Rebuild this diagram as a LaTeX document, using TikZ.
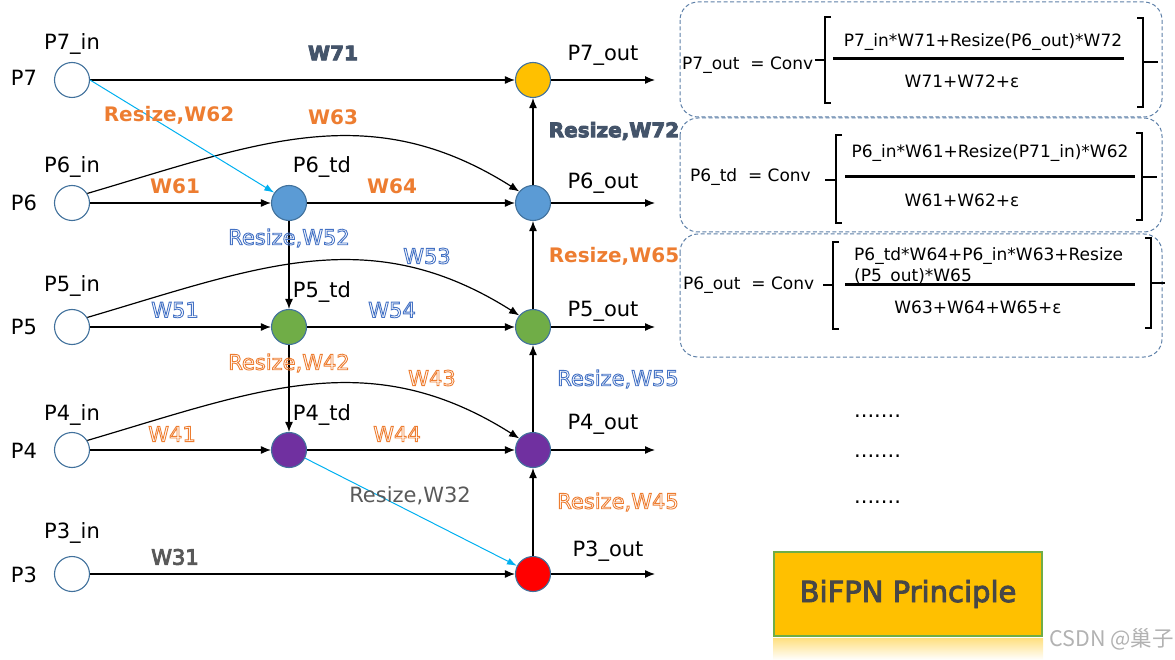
\documentclass[tikz,border=0pt]{standalone}
\usepackage{fontspec}
\setmainfont{DejaVu Sans}
\newfontfamily\cjk{Noto Sans CJK SC}
\usetikzlibrary{arrows.meta}
\definecolor{edgeblue}{HTML}{41719C}
\definecolor{cseven}{HTML}{FFC000}
\definecolor{csix}{HTML}{5B9BD5}
\definecolor{cfive}{HTML}{70AD47}
\definecolor{cfour}{HTML}{7030A0}
\definecolor{cthree}{HTML}{FF0000}
\definecolor{orng}{HTML}{ED7D31}
\definecolor{slate}{HTML}{44546A}
\definecolor{ublue}{HTML}{4472C4}
\definecolor{dgrey}{HTML}{595959}
\definecolor{cyanl}{HTML}{00B0F0}
\definecolor{boxedge}{HTML}{5E80A8}
\newcommand\outl[1]{\special{pdf:literal direct 1 Tr 0.9 w}#1\special{pdf:literal direct 0 Tr}}
\newcommand\thick[1]{\special{pdf:literal direct 2 Tr 0.9 w}#1\special{pdf:literal direct 0 Tr}}
\tikzset{
  inc/.style={circle, draw=edgeblue, line width=1.1pt, fill=white, minimum size=35pt, inner sep=0pt},
  fus/.style={circle, draw=edgeblue, line width=1.1pt, minimum size=35pt, inner sep=0pt},
  lab/.style={font=\fontsize{21}{25}\selectfont, inner sep=0pt},
  wb/.style={font=\fontsize{20}{24}\selectfont\bfseries, inner sep=0pt},
  wo/.style={font=\fontsize{21}{25}\selectfont, inner sep=0pt},
  conn/.style={line width=1.2pt, -{Latex[length=10pt,width=8pt]}},
  rz/.style={line width=1pt, draw=cyanl, -{Latex[length=10pt,width=7pt]}},
  fbox/.style={draw=boxedge, dash pattern=on 4pt off 2.5pt, rounded corners=18pt, line width=1pt},
  ftext/.style={font=\fontsize{17}{20}\selectfont, inner sep=0pt},
  brk/.style={line width=1.6pt},
  bar/.style={line width=3pt},
}
\begin{document}
\begin{tikzpicture}[x=1pt,y=-1pt]
\useasboundingbox (0,0) rectangle (1175,660);
% circles
\node[inc] (in7) at (72,80) {};
\node[inc] (in6) at (72,203) {};
\node[inc] (in5) at (72,327) {};
\node[inc] (in4) at (72,450) {};
\node[inc] (in3) at (72,574) {};
\node[fus, fill=csix] (td6) at (289,203) {};
\node[fus, fill=cfive] (td5) at (289,327) {};
\node[fus, fill=cfour] (td4) at (289,450) {};
\node[fus, fill=cseven] (out7) at (533,80) {};
\node[fus, fill=csix] (out6) at (533,203) {};
\node[fus, fill=cfive] (out5) at (533,327) {};
\node[fus, fill=cfour] (out4) at (533,450) {};
\node[fus, fill=cthree] (out3) at (533,574) {};
\coordinate (e7) at (655,80);
\coordinate (e6) at (655,203);
\coordinate (e5) at (655,327);
\coordinate (e4) at (655,450);
\coordinate (e3) at (655,574);
% horizontal connectors
\draw[conn] (in7) -- (out7);
\draw[conn] (in6) -- (td6);
\draw[conn] (td6) -- (out6);
\draw[conn] (in5) -- (td5);
\draw[conn] (td5) -- (out5);
\draw[conn] (in4) -- (td4);
\draw[conn] (td4) -- (out4);
\draw[conn] (in3) -- (out3);
\foreach \i in {7,6,5,4,3} {\draw[conn] (out\i) -- (e\i);}
% vertical
\draw[conn] (td6) -- (td5);
\draw[conn] (td5) -- (td4);
\draw[conn] (out3) -- (out4);
\draw[conn] (out4) -- (out5);
\draw[conn] (out5) -- (out6);
\draw[conn] (out6) -- (out7);
% curves
\draw[conn] (in6.32) .. controls +(170,-50) and +(-150,-95) .. (out6.140);
\draw[conn] (in5.32) .. controls +(170,-50) and +(-150,-95) .. (out5.140);
\draw[conn] (in4.32) .. controls +(170,-50) and +(-150,-95) .. (out4.140);
% resize diagonals
\draw[rz] (in7.east) -- (td6.145);
\draw[rz] (td4) -- (out3);
% row labels
\node[lab] (r7) at (24,78) {P7};
\node[lab] (r6) at (24,203) {P6};
\node[lab] (r5) at (24,327) {P5};
\node[lab] (r4) at (24,451) {P4};
\node[lab] (r3) at (24,575) {P3};
\node[lab] (n7) at (72,44) {P7\_in};
\node[lab] (n6) at (72,167) {P6\_in};
\node[lab] (n5) at (72,286) {P5\_in};
\node[lab] (n4) at (72,415) {P4\_in};
\node[lab] (n3) at (72,533) {P3\_in};
\node[lab] (t6) at (322,167) {P6\_td};
\node[lab] (t5) at (322,292) {P5\_td};
\node[lab] (t4) at (322,415) {P4\_td};
\node[lab] (o7) at (603,55) {P7\_out};
\node[lab] (o6) at (603,183) {P6\_out};
\node[lab] (o5) at (603,311) {P5\_out};
\node[lab] (o4) at (603,424) {P4\_out};
\node[lab] (o3) at (608,551) {P3\_out};
% weight labels
\node[wb, text=slate] (w71) at (333,53) {\thick{W71}};
\node[wb, text=orng] (w62) at (169,115) {Resize,W62};
\node[wb, text=orng] (w63) at (333,117) {W63};
\node[wb, text=orng] (w61) at (175,186) {W61};
\node[wb, text=orng] (w64) at (392,186) {W64};
\node[wb, text=slate] (w72) at (614,131) {\thick{Resize,W72}};
\node[wo, text=ublue] (w52) at (289,238) {\outl{Resize,W52}};
\node[wo, text=ublue] (w53) at (427,256) {\outl{W53}};
\node[wb, text=orng] (w65) at (614,256) {Resize,W65};
\node[wo, text=ublue] (w51) at (175,310) {\outl{W51}};
\node[wo, text=ublue] (w54) at (392,310) {\outl{W54}};
\node[wo, text=orng] (w42) at (289,363) {\outl{Resize,W42}};
\node[wo, text=orng] (w43) at (432,378) {\outl{W43}};
\node[wo, text=ublue] (w55) at (618,379) {\outl{Resize,W55}};
\node[wo, text=orng] (w41) at (172,434) {\outl{W41}};
\node[wo, text=orng] (w44) at (397,434) {\outl{W44}};
\node[wo, text=dgrey] (w32) at (410,496) {Resize,W32};
\node[wo, text=orng] (w45) at (618,502) {\outl{Resize,W45}};
\node[wo, text=dgrey] (w31) at (175,557) {\thick{W31}};
% formula boxes
\draw[fbox] (680,2) rectangle (1162,117);
\draw[fbox] (680,118) rectangle (1162,232);
\draw[fbox] (680,234) rectangle (1162,357);
% formula 1
\node[ftext, anchor=west] (f1) at (682,65) {P7\_out\ \ = Conv};
\draw[brk] (831,17) -- (825,17) -- (825,103) -- (831,103);
\draw[brk] (815,60) -- (825,60);
\draw[bar] (833,59) -- (1124,59);
\draw[brk] (1137,18) -- (1143,18) -- (1143,107) -- (1137,107);
\draw[brk] (1143,62) -- (1158,62);
\node[ftext] (f1n) at (983,42) {P7\_in*W71+Resize(P6\_out)*W72};
\node[ftext] (f1d) at (962,81) {W71+W72+ε};
% formula 2
\node[ftext, anchor=west] (f2) at (690,177) {P6\_td\ \ = Conv};
\draw[brk] (842,135) -- (836,135) -- (836,223) -- (842,223);
\draw[brk] (825,180) -- (836,180);
\draw[bar] (845,177) -- (1135,177);
\draw[brk] (1136,133) -- (1142,133) -- (1142,220) -- (1136,220);
\draw[brk] (1142,177) -- (1157,177);
\node[ftext] (f2n) at (990,153) {P6\_in*W61+Resize(P71\_in)*W62};
\node[ftext] (f2d) at (962,200) {W61+W62+ε};
% formula 3
\node[ftext, anchor=west] (f3) at (683,285) {P6\_out\ \ = Conv};
\draw[brk] (839,242) -- (833,242) -- (833,329) -- (839,329);
\draw[brk] (823,285) -- (833,285);
\draw[bar] (845,285) -- (1135,285);
\draw[brk] (1145,238) -- (1151,238) -- (1151,328) -- (1145,328);
\draw[brk] (1151,283) -- (1165,283);
\node[ftext, anchor=west] (f3a) at (854,256) {P6\_td*W64+P6\_in*W63+Resize};
\node[ftext, anchor=west] (f3b) at (854,277) {(P5\_out)*W65};
\node[ftext] (f3d) at (978,307) {W63+W64+W65+ε};
% dots
\node[lab, anchor=base west] (d1) at (854,417) {.......};
\node[lab, anchor=base west] (d2) at (854,457) {.......};
\node[lab, anchor=base west] (d3) at (854,503) {.......};
% title box
\shade[top color=cseven!50, bottom color=white] (773,638) rectangle (1043,660);
\node[draw=cfive, line width=2.5pt, fill=cseven, minimum width=268pt, minimum height=84pt, inner sep=0pt, font=\fontsize{29}{34}\selectfont, text=black!72] (title) at (908,594) {\thick{BiFPN Principle}};
\node[font=\cjk\fontsize{21.5}{25}\selectfont, text=black!30, anchor=east, inner sep=0pt] (wm) at (1174,639) {CSDN @巢子};
\end{tikzpicture}
\end{document}
